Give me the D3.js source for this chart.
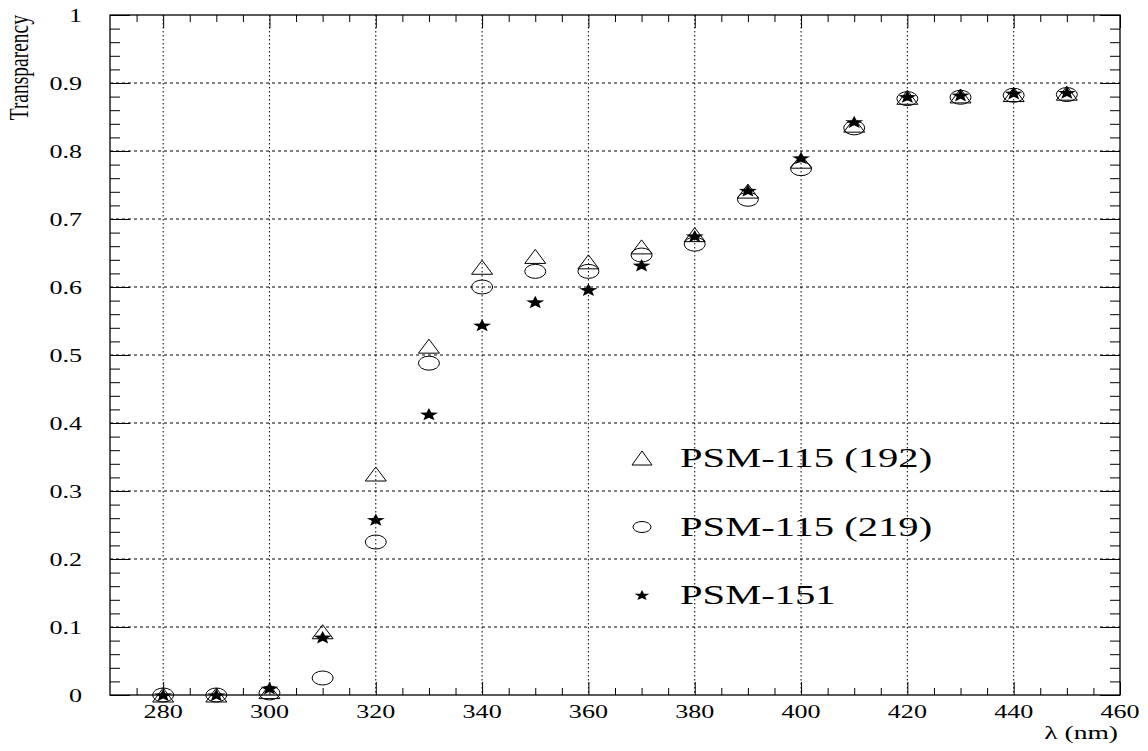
<!DOCTYPE html>
<html><head><meta charset="utf-8">
<script src="https://cdn.jsdelivr.net/npm/d3@7"></script>
<style>body{margin:0;background:#fff}svg{display:block}</style>
</head><body>
<svg id="c" width="1148" height="751"></svg>
<script>
const wavelengths = [280,290,300,310,320,330,340,350,360,370,380,390,400,410,420,430,440,450];
const psm115_192 = [0,0,0.005,0.093,0.325,0.513,0.629,0.645,0.637,0.659,0.677,0.741,0.785,0.838,0.879,0.881,0.883,0.885];
const psm115_219 = [0,0,0.003,0.025,0.225,0.488,0.600,0.623,0.623,0.647,0.663,0.729,0.774,0.834,0.877,0.879,0.882,0.883];
const psm151     = [0,0,0.010,0.085,0.258,0.413,0.544,0.578,0.596,0.632,0.675,0.742,0.790,0.843,0.880,0.882,0.885,0.886];
const seriesNames = ["PSM-115 (192)","PSM-115 (219)","PSM-151"];
const xTickValues = [280,300,320,340,360,380,400,420,440,460];
const yTickValues = [0,0.1,0.2,0.3,0.4,0.5,0.6,0.7,0.8,0.9,1];
const yTickLabels = ["0","0.1","0.2","0.3","0.4","0.5","0.6","0.7","0.8","0.9","1"];
const xLabel = "\u03bb (nm)";
const yLabel = "Transparency";

const SX = 1.45; // horizontal stretch of glyphs
const L=110,R=1120,T=15,B=695;
const x = d3.scaleLinear().domain([270,460]).range([L,R]);
const y = d3.scaleLinear().domain([0,1]).range([B,T]);
const svg = d3.select("#c");
const font = "'Liberation Serif','Times New Roman',serif";

// grid
svg.append("g").selectAll("line").data(xTickValues.filter(v=>v<460)).join("line")
  .attr("x1",d=>x(d)).attr("x2",d=>x(d)).attr("y1",T).attr("y2",B)
  .attr("stroke","#000").attr("stroke-width",1).attr("stroke-dasharray","1.5,2.5");
svg.append("g").selectAll("line").data(yTickValues.filter(v=>v>0&&v<1)).join("line")
  .attr("x1",L).attr("x2",R).attr("y1",d=>y(d)).attr("y2",d=>y(d))
  .attr("stroke","#000").attr("stroke-width",1).attr("stroke-dasharray","3,3");

// axes ticks
const xMinor = d3.range(275,460,5).filter(v=>!xTickValues.includes(v));
const yMinor = d3.range(0,1.0001,0.02).map(v=>+v.toFixed(2)).filter(v=>Math.round(v*100)%10!==0);
function ax(gen, tr){ const g=svg.append("g").attr("transform",tr).call(gen); g.selectAll("text").remove(); g.select(".domain").remove(); g.selectAll("line").attr("stroke","#000"); return g;}
ax(d3.axisBottom(x).tickValues(xTickValues).tickSize(-13),`translate(0,${B})`);
ax(d3.axisBottom(x).tickValues(xMinor).tickSize(-7),`translate(0,${B})`);
ax(d3.axisTop(x).tickValues(xTickValues).tickSize(-13),`translate(0,${T})`);
ax(d3.axisTop(x).tickValues(xMinor).tickSize(-7),`translate(0,${T})`);
ax(d3.axisLeft(y).tickValues(yTickValues).tickSize(-20),`translate(${L},0)`);
ax(d3.axisLeft(y).tickValues(yMinor).tickSize(-10),`translate(${L},0)`);
ax(d3.axisRight(y).tickValues(yTickValues).tickSize(-20),`translate(${R},0)`);
ax(d3.axisRight(y).tickValues(yMinor).tickSize(-10),`translate(${R},0)`);

// frame
svg.append("rect").attr("x",L).attr("y",T).attr("width",R-L).attr("height",B-T)
  .attr("fill","none").attr("stroke","#000").attr("stroke-width",1.3);

// tick labels
svg.append("g").selectAll("text").data(xTickValues).join("text")
  .attr("transform",d=>`translate(${x(d)},${B+23}) scale(${SX},1)`)
  .attr("text-anchor","middle").attr("font-family",font).attr("font-size",18).text(d=>d);
svg.append("g").selectAll("text").data(yTickValues).join("text")
  .attr("transform",(d)=>`translate(82,${y(d)+7}) scale(${SX},1)`)
  .attr("text-anchor","end").attr("font-family",font).attr("font-size",18).text((d,i)=>yTickLabels[i]);

// axis labels
svg.append("text").attr("transform",`translate(1118,739) scale(${SX},1)`)
  .attr("text-anchor","end").attr("font-family",font).attr("font-size",19).text(xLabel);
svg.append("text").attr("transform",`translate(28,15) scale(${SX},1) rotate(-90)`)
  .attr("text-anchor","end").attr("font-family",font).attr("font-size",19.5).text(yLabel);

// marker paths
function triPath(w,h){return `M0,${-h/2}L${w/2},${h/2}L${-w/2},${h/2}Z`;}
function starPath(r,sx){const p=[];for(let i=0;i<10;i++){const a=-Math.PI/2+i*Math.PI/5;const rr=i%2?r*0.42:r;p.push([Math.cos(a)*rr*sx,Math.sin(a)*rr+ r*0.1]);}return "M"+p.map(q=>q.join(",")).join("L")+"Z";}

const pts = (vals)=>wavelengths.map((w,i)=>({w,v:vals[i]}));
svg.append("g").selectAll("path").data(pts(psm115_192)).join("path")
  .attr("d",triPath(21,14)).attr("transform",d=>`translate(${x(d.w)},${y(d.v)})`)
  .attr("fill","none").attr("stroke","#000").attr("stroke-width",1);
svg.append("g").selectAll("ellipse").data(pts(psm115_219)).join("ellipse")
  .attr("cx",d=>x(d.w)).attr("cy",d=>y(d.v)).attr("rx",10.5).attr("ry",7)
  .attr("fill","none").attr("stroke","#000").attr("stroke-width",1);
svg.append("g").selectAll("path").data(pts(psm151)).join("path")
  .attr("d",starPath(6.8,1.4)).attr("transform",d=>`translate(${x(d.w)},${y(d.v)})`)
  .attr("fill","#000").attr("stroke","none");

// legend
const lg = svg.append("g");
const rows=[458,527,595];
lg.append("path").attr("d",triPath(20,14)).attr("transform",`translate(642,${rows[0]})`).attr("fill","none").attr("stroke","#000");
lg.append("ellipse").attr("cx",642).attr("cy",rows[1]).attr("rx",9).attr("ry",5.5).attr("fill","none").attr("stroke","#000");
lg.append("path").attr("d",starPath(5.6,1.4)).attr("transform",`translate(642,${rows[2]})`).attr("fill","#000");
lg.selectAll("text").data(seriesNames).join("text")
  .attr("transform",(d,i)=>`translate(680,${rows[i]+9}) scale(${SX},1)`)
  .attr("font-family",font).attr("font-size",28).text(d=>d);
</script>
</body></html>
